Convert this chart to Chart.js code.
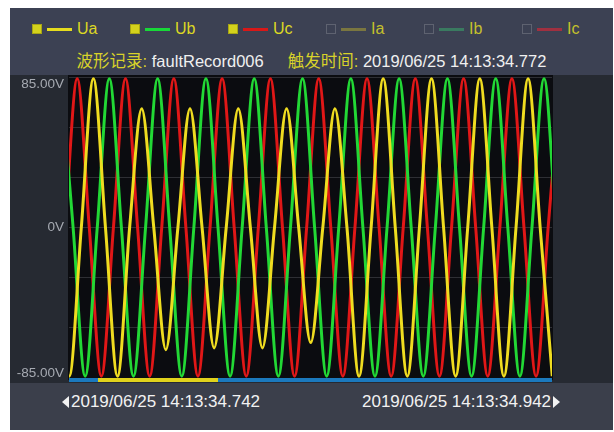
<!DOCTYPE html>
<html lang="zh">
<head>
<meta charset="UTF-8">
<title>波形记录 faultRecord006</title>
<style>
    body {
        margin: 0;
        background: #ffffff;
        font-family: "Liberation Sans", Arial, "Noto Sans CJK SC", sans-serif;
    }
    .block { position: absolute; }
    .header { left: 10px; top: 8px; width: 603px; height: 67px; background: #3c4153; }
    .plot-row { left: 10px; top: 75px; width: 603px; height: 308px; background: #262a32; }
    .footer { left: 10px; top: 383px; width: 603px; height: 47px; background: #3b3f4b; }
    #wave { position: absolute; left: 10px; top: 75px; }
    .lg-box { position: absolute; top: 24px; width: 8px; height: 8px; box-sizing: content-box; }
    .lg-line { position: absolute; top: 28px; width: 25px; height: 3px; }
    .lg-text { position: absolute; top: 19px; font-size: 16px; line-height: 20px; }
    .title { position: absolute; left: 10px; width: 603px; top: 51px; font-size: 16.5px; line-height: 20px;
             white-space: nowrap; text-align: center; }
    .yel { color: #d8d22a; }
    .wht { color: #f0f0f0; }
    .gap { display: inline-block; width: 24px; }
    .stamp { position: absolute; top: 392px; font-size: 17px; line-height: 20px; color: #f2f2f2; white-space: nowrap; }
    .tri-l { position: absolute; left: 62px; top: 396px; width: 0; height: 0;
             border-top: 6px solid transparent; border-bottom: 6px solid transparent; border-right: 7px solid #f2f2f2; }
    .tri-r { position: absolute; left: 553px; top: 396px; width: 0; height: 0;
             border-top: 6px solid transparent; border-bottom: 6px solid transparent; border-left: 7px solid #f2f2f2; }
</style>
</head>
<body>
<div class="block header"></div>
<div class="block plot-row"></div>
<div class="block footer"></div>

<div id="legend"></div>

<div class="title"><span class="yel">波形记录:</span> <span class="wht">faultRecord006</span><span class="gap"></span><span class="yel">触发时间:</span> <span class="wht">2019/06/25 14:13:34.772</span></div>

<canvas id="wave" width="603" height="308"></canvas>

<div class="tri-l"></div>
<div class="stamp" style="left:71px">2019/06/25 14:13:34.742</div>
<div class="stamp" style="left:362px">2019/06/25 14:13:34.942</div>
<div class="tri-r"></div>

<script src="https://cdn.jsdelivr.net/npm/chart.js"></script>
<script>
    // legend entries (U channels shown, I channels switched off)
    const legendNames = ['Ua', 'Ub', 'Uc', 'Ia', 'Ib', 'Ic'];
    const legendLineColors = ['#e6dc1e', '#18d838', '#d81818', '#7a7640', '#3a7a60', '#a03040'];
    const legendShown = [true, true, true, false, false, false];

    // time in ms from 14:13:34.742, voltage in V (peaks and zero crossings)
    const uaTime = [-4.9, 0.1, 5.1, 10.1, 15.1, 20.1, 25.1, 30.1, 35.1, 40.1, 45.1, 50.1, 55.1, 60.1,
        65.1, 70.1, 75.1, 80.1, 85.1, 90.1, 95.1, 100.1, 105.1, 110.1, 115.1, 120.1, 125.1, 130.1,
        135.1, 140.1, 145.1, 150.1, 155.1, 160.1, 165.1, 170.1, 175.1, 180.1, 185.1, 190.1, 195.1, 200.1];
    const uaVolt = [0, -84, 0, 84, 0, -84, 0, 67, 0, -69, 0, 67, 0, -68,
        0, 67, 0, -68, 0, 67, 0, -65, 0, 67, 0, -84, 0, 84,
        0, -84, 0, 84, 0, -84, 0, 84, 0, -84, 0, 84, 0, -84];

    const ubTime = [-3.3, 1.7, 6.7, 11.7, 16.7, 21.7, 26.7, 31.7, 36.7, 41.7, 46.7, 51.7, 56.7, 61.7,
        66.7, 71.7, 76.7, 81.7, 86.7, 91.7, 96.7, 101.7, 106.7, 111.7, 116.7, 121.7, 126.7, 131.7,
        136.7, 141.7, 146.7, 151.7, 156.7, 161.7, 166.7, 171.7, 176.7, 181.7, 186.7, 191.7, 196.7, 201.7];
    const ubVolt = [84, 0, -84, 0, 84, 0, -84, 0, 84, 0, -84, 0, 84, 0,
        -84, 0, 84, 0, -84, 0, 84, 0, -84, 0, 84, 0, -84, 0,
        84, 0, -84, 0, 84, 0, -84, 0, 84, 0, -84, 0, 84, 0];

    const ucTime = [-1.6, 3.4, 8.4, 13.4, 18.4, 23.4, 28.4, 33.4, 38.4, 43.4, 48.4, 53.4, 58.4, 63.4,
        68.4, 73.4, 78.4, 83.4, 88.4, 93.4, 98.4, 103.4, 108.4, 113.4, 118.4, 123.4, 128.4, 133.4,
        138.4, 143.4, 148.4, 153.4, 158.4, 163.4, 168.4, 173.4, 178.4, 183.4, 188.4, 193.4, 198.4, 203.4];
    const ucVolt = [0, 84, 0, -84, 0, 84, 0, -84, 0, 84, 0, -84, 0, 84,
        0, -84, 0, 84, 0, -84, 0, 84, 0, -84, 0, 84, 0, -84,
        0, 84, 0, -84, 0, 84, 0, -84, 0, 84, 0, -84, 0, 84];

    // axis
    const timeRange = [0, 200];
    const voltRange = [-85, 85];
    const yGrid = [-85, -56.67, -28.33, 0, 28.33, 56.67, 85];
    const yLabelValues = [85, 0, -85];
    const yLabelTexts = ['85.00V', '0V', '-85.00V'];
    const viewWindow = [12.0, 61.7];   // highlighted part of the scroll bar (ms)

    // legend
    const legendEl = document.getElementById('legend');
    legendNames.forEach((name, i) => {
        const left = 32 + i * 98;
        const box = document.createElement('div');
        box.className = 'lg-box';
        box.style.left = left + 'px';
        if (legendShown[i]) {
            box.style.background = '#d4d21c';
            box.style.border = '1px solid #a8a614';
        } else {
            box.style.border = '1px solid #5e6270';
        }
        const line = document.createElement('div');
        line.className = 'lg-line';
        line.style.left = (left + 15) + 'px';
        line.style.background = legendLineColors[i];
        const text = document.createElement('div');
        text.className = 'lg-text';
        text.style.left = (left + 45) + 'px';
        text.style.color = legendShown[i] ? '#dcd824' : '#c4c02c';
        text.textContent = name;
        legendEl.append(box, line, text);
    });

    const toPoints = (t, v) => t.map((x, i) => ({ x: x, y: v[i] }));

    const scopePlugin = {
        id: 'scope',
        beforeDraw(chart) {
            const { ctx, chartArea: a } = chart;
            ctx.save();
            ctx.fillStyle = '#0b0c10';
            ctx.fillRect(a.left - 1, 0, a.right - a.left + 2, a.bottom + 2);
            ctx.restore();
        },
        afterDraw(chart) {
            const { ctx, chartArea: a, scales } = chart;
            ctx.save();
            // scroll bar under the trace
            ctx.fillStyle = '#1b79bd';
            ctx.fillRect(a.left, a.bottom, a.right - a.left, 4);
            const x0 = scales.x.getPixelForValue(viewWindow[0]);
            const x1 = scales.x.getPixelForValue(viewWindow[1]);
            ctx.fillStyle = '#e0d21c';
            ctx.fillRect(x0, a.bottom, x1 - x0, 4);
            // voltage labels, kept inside the plot height
            ctx.font = '13.5px "Liberation Sans", Arial, sans-serif';
            ctx.fillStyle = '#a6aab2';
            ctx.textAlign = 'right';
            ctx.textBaseline = 'middle';
            yLabelValues.forEach((v, i) => {
                let py = scales.y.getPixelForValue(v);
                py = Math.min(Math.max(py, a.top + 7), a.bottom - 5);
                ctx.fillText(yLabelTexts[i], a.left - 5, py);
            });
            ctx.restore();
        }
    };

    const lineStyle = { borderWidth: 3, pointRadius: 0, fill: false, cubicInterpolationMode: 'monotone' };

    new Chart(document.getElementById('wave'), {
        type: 'line',
        data: {
            datasets: [
                { label: 'Ua', data: toPoints(uaTime, uaVolt), borderColor: '#efdc20', ...lineStyle },
                { label: 'Ub', data: toPoints(ubTime, ubVolt), borderColor: '#22d835', ...lineStyle },
                { label: 'Uc', data: toPoints(ucTime, ucVolt), borderColor: '#e01717', ...lineStyle }
            ]
        },
        options: {
            responsive: false,
            animation: false,
            layout: { padding: { left: 59, right: 61, top: 2, bottom: 5 } },
            scales: {
                x: { type: 'linear', min: timeRange[0], max: timeRange[1], display: false },
                y: {
                    min: voltRange[0],
                    max: voltRange[1],
                    afterBuildTicks: s => { s.ticks = yGrid.map(v => ({ value: v })); },
                    afterFit: s => { s.width = 0; },
                    ticks: { display: false },
                    grid: { color: 'rgba(150,150,160,0.25)', lineWidth: 1, drawTicks: false },
                    border: { display: false }
                }
            },
            plugins: { legend: { display: false }, tooltip: { enabled: false } }
        },
        plugins: [scopePlugin]
    });
</script>
</body>
</html>
